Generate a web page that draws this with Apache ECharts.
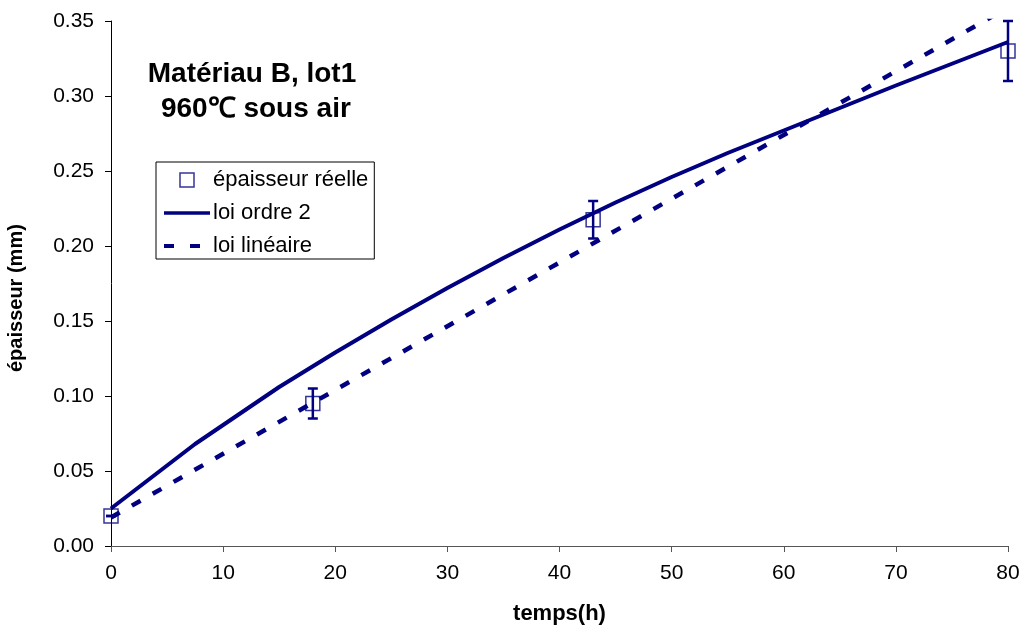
<!DOCTYPE html>
<html>
<head>
<meta charset="utf-8">
<script src="https://cdn.jsdelivr.net/npm/echarts@6/dist/echarts.min.js"></script>
<style>
  html, body { margin: 0; padding: 0; background: #fff; }
  #chart { width: 1024px; height: 630px; }
</style>
</head>
<body>
<div id="chart"></div>
<script>
// Measured thickness (mm) versus time (h)
const measTime = [0, 18, 43, 80];
const measThick = [0.02, 0.095, 0.2175, 0.33];
const measErr = [0.0, 0.01, 0.0125, 0.02];

// Second-order law curve
const quadTime = [0, 7.5, 15, 20, 25, 30, 35, 40, 45, 50, 55, 60, 65, 70, 75, 80];
const quadThick = [0.025, 0.068, 0.106, 0.129, 0.151, 0.172, 0.192, 0.211, 0.229, 0.246, 0.262, 0.277, 0.292, 0.307, 0.3215, 0.336];

// Linear law
const linTime = [0, 80];
const linThick = [0.019, 0.359];

// Axis ticks
const xTicks = { min: 0, max: 80, step: 10 };
const yTicks = { min: 0, max: 0.35, step: 0.05 };

const NAVY = '#000080';
const FONT = '"Liberation Sans", Arial, sans-serif';

const zip = (a, b) => a.map((v, i) => [v, b[i]]);
const errData = measTime.map((t, i) => [t, measThick[i] - measErr[i], measThick[i] + measErr[i]]);

const chart = echarts.init(document.getElementById('chart'), null, { renderer: 'canvas' });

// legend entries for the two curves show only their line, no symbol
const noSymbol = { color: 'rgba(0,0,0,0)', borderWidth: 0 };

chart.setOption({
  backgroundColor: '#fff',
  animation: false,
  grid: { left: 111, right: 16, top: 21, bottom: 82, containLabel: false },
  xAxis: {
    type: 'value',
    min: xTicks.min, max: xTicks.max, interval: xTicks.step,
    name: 'temps(h)',
    nameLocation: 'middle',
    nameGap: 57,
    nameTextStyle: { fontFamily: FONT, fontSize: 22, fontWeight: 'bold', color: '#000' },
    axisLine: { onZero: false, lineStyle: { color: '#555', width: 1 } },
    axisTick: { show: true, inside: false, length: 6, lineStyle: { color: '#555' } },
    axisLabel: { fontFamily: FONT, fontSize: 21, color: '#000', margin: 17 },
    splitLine: { show: false }
  },
  yAxis: {
    type: 'value',
    min: yTicks.min, max: yTicks.max, interval: yTicks.step,
    axisLine: { show: true, lineStyle: { color: '#000', width: 1 } },
    axisTick: { show: true, inside: false, length: 6, lineStyle: { color: '#000' } },
    axisLabel: { fontFamily: FONT, fontSize: 21, color: '#000', margin: 17,
      formatter: v => v.toFixed(2) },
    splitLine: { show: false }
  },
  legend: {
    orient: 'vertical',
    left: 156, top: 162,
    padding: [7, 6, 2, 6],
    borderColor: '#000', borderWidth: 1,
    backgroundColor: '#fff',
    itemWidth: 46, itemHeight: 14, itemGap: 11,
    textStyle: { fontFamily: FONT, fontSize: 22, color: '#000', padding: [0, 0, 0, -2] },
    data: [
      { name: 'épaisseur réelle', icon: 'path://M0,0H10V10H0Z',
        itemStyle: { color: '#fff', borderColor: NAVY, borderWidth: 1.5 } },
      { name: 'loi ordre 2', itemStyle: noSymbol,
        lineStyle: { width: 3.5 } },
      { name: 'loi linéaire', itemStyle: noSymbol,
        lineStyle: { width: 4, type: [10, 16] } }
    ]
  },
  graphic: [
    {
      type: 'text', x: 252, y: 57, z: 10,
      style: {
        text: 'Matériau B, lot1\n 960℃ sous air',
        fontFamily: FONT, fontSize: 28, fontWeight: 'bold', fill: '#000',
        lineHeight: 35, align: 'center', verticalAlign: 'top'
      }
    },
    {
      type: 'text', x: 6, y: 372, rotation: Math.PI / 2, z: 10,
      style: {
        text: 'épaisseur (mm)',
        fontFamily: FONT, fontSize: 20, fontWeight: 'bold', fill: '#000',
        verticalAlign: 'top'
      }
    }
  ],
  series: [
    {
      name: 'loi ordre 2',
      type: 'line',
      data: zip(quadTime, quadThick),
      symbol: 'none',
      lineStyle: { color: NAVY, width: 4 },
      itemStyle: { color: NAVY },
      z: 2
    },
    {
      name: 'loi linéaire',
      type: 'line',
      data: zip(linTime, linThick),
      symbol: 'none',
      lineStyle: { color: NAVY, width: 4.5, type: [10, 14] },
      itemStyle: { color: NAVY },
      z: 2
    },
    {
      name: 'barres',
      type: 'custom',
      data: errData,
      z: 3,
      renderItem: (params, api) => {
        const x = api.value(0);
        const lo = api.coord([x, api.value(1)]);
        const hi = api.coord([x, api.value(2)]);
        const cap = 5;
        const st = { stroke: NAVY, lineWidth: 2.5 };
        return {
          type: 'group',
          children: [
            { type: 'line', shape: { x1: lo[0], y1: lo[1], x2: hi[0], y2: hi[1] }, style: st },
            { type: 'line', shape: { x1: lo[0] - cap, y1: lo[1], x2: lo[0] + cap, y2: lo[1] }, style: st },
            { type: 'line', shape: { x1: hi[0] - cap, y1: hi[1], x2: hi[0] + cap, y2: hi[1] }, style: st }
          ]
        };
      }
    },
    {
      name: 'épaisseur réelle',
      type: 'scatter',
      data: zip(measTime, measThick),
      symbol: 'rect',
      symbolSize: 14,
      itemStyle: { color: 'rgba(255,255,255,0)', borderColor: NAVY, borderWidth: 1.5 },
      z: 4
    }
  ]
});
</script>
</body>
</html>
